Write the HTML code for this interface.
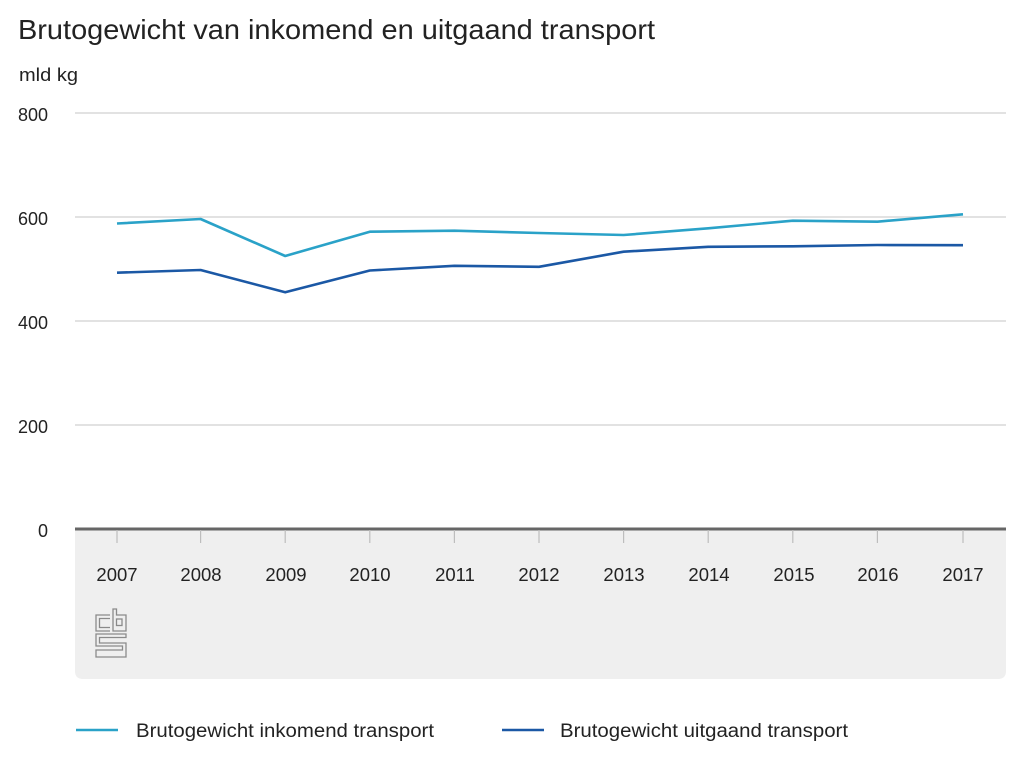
<!DOCTYPE html>
<html><head><meta charset="utf-8"><style>
html,body{margin:0;padding:0;background:#fff;}
svg{display:block;}
text{font-family:"Liberation Sans",Arial,sans-serif;fill:#222;}
</style></head><body>
<svg width="1024" height="768" viewBox="0 0 1024 768" xmlns="http://www.w3.org/2000/svg">
<rect width="1024" height="768" fill="#fff"/>
<text x="18" y="39" font-size="28" textLength="637" lengthAdjust="spacingAndGlyphs">Brutogewicht van inkomend en uitgaand transport</text>
<text x="19" y="81" font-size="18" textLength="59" lengthAdjust="spacingAndGlyphs">mld kg</text>
<!-- grid -->
<g stroke="#d0d0d0" stroke-width="1.2">
<line x1="75" y1="113" x2="1006" y2="113"/>
<line x1="75" y1="217" x2="1006" y2="217"/>
<line x1="75" y1="321" x2="1006" y2="321"/>
<line x1="75" y1="425" x2="1006" y2="425"/>
</g>
<g font-size="18" text-anchor="end">
<text x="48" y="121">800</text>
<text x="48" y="225">600</text>
<text x="48" y="329">400</text>
<text x="48" y="433">200</text>
<text x="48" y="537">0</text>
</g>
<!-- gray box -->
<path d="M75,529 H1006 V671 Q1006,679 998,679 H83 Q75,679 75,671 Z" fill="#efefef"/>
<line x1="75" y1="529" x2="1006" y2="529" stroke="#666" stroke-width="3"/>
<g stroke="#bdbdbd" stroke-width="1.2">
<line x1="117" y1="530" x2="117" y2="543"/>
<line x1="200.6" y1="530" x2="200.6" y2="543"/>
<line x1="285.2" y1="530" x2="285.2" y2="543"/>
<line x1="369.8" y1="530" x2="369.8" y2="543"/>
<line x1="454.4" y1="530" x2="454.4" y2="543"/>
<line x1="539" y1="530" x2="539" y2="543"/>
<line x1="623.6" y1="530" x2="623.6" y2="543"/>
<line x1="708.2" y1="530" x2="708.2" y2="543"/>
<line x1="792.8" y1="530" x2="792.8" y2="543"/>
<line x1="877.4" y1="530" x2="877.4" y2="543"/>
<line x1="963" y1="530" x2="963" y2="543"/>
</g>
<g font-size="18.5" text-anchor="middle">
<text x="117" y="581">2007</text>
<text x="201" y="581">2008</text>
<text x="286" y="581">2009</text>
<text x="370" y="581">2010</text>
<text x="455" y="581">2011</text>
<text x="539" y="581">2012</text>
<text x="624" y="581">2013</text>
<text x="709" y="581">2014</text>
<text x="794" y="581">2015</text>
<text x="878" y="581">2016</text>
<text x="963" y="581">2017</text>
</g>
<!-- cbs logo -->
<g fill="none" stroke="#8a8a8a" stroke-width="1.3">
<path d="M110,615 H96 V631 H110"/>
<path d="M110,618.5 H99.5 V627.5 H110"/>
<path d="M113,609 V631 H126 V615 H116.5 V609 Z"/>
<rect x="116.5" y="619" width="5.5" height="6.5"/>
<path d="M126,634 H96 V646 H122.5 V650 H96 V657 H126 V643 H99.5 V637.5 H126 Z"/>
</g>
<!-- series -->
<polyline fill="none" stroke="#2aa2c8" stroke-width="2.6" stroke-linejoin="round" points="117,223.5 200.6,219 285.2,256 369.8,231.7 454.4,230.7 539,233 623.6,235 708.2,228.3 792.8,220.7 877.4,221.7 963,214.3"/>
<polyline fill="none" stroke="#1b58a5" stroke-width="2.6" stroke-linejoin="round" points="117,272.7 200.6,270 285.2,292.3 369.8,270.5 454.4,265.8 539,266.8 623.6,251.7 708.2,246.8 792.8,246.3 877.4,245 963,245.2"/>
<!-- legend -->
<line x1="76" y1="730" x2="118" y2="730" stroke="#2aa2c8" stroke-width="2.6"/>
<text x="136" y="737" font-size="19" textLength="298" lengthAdjust="spacingAndGlyphs">Brutogewicht inkomend transport</text>
<line x1="502" y1="730" x2="544" y2="730" stroke="#1b58a5" stroke-width="2.6"/>
<text x="560" y="737" font-size="19" textLength="288" lengthAdjust="spacingAndGlyphs">Brutogewicht uitgaand transport</text>
</svg>
</body></html>
